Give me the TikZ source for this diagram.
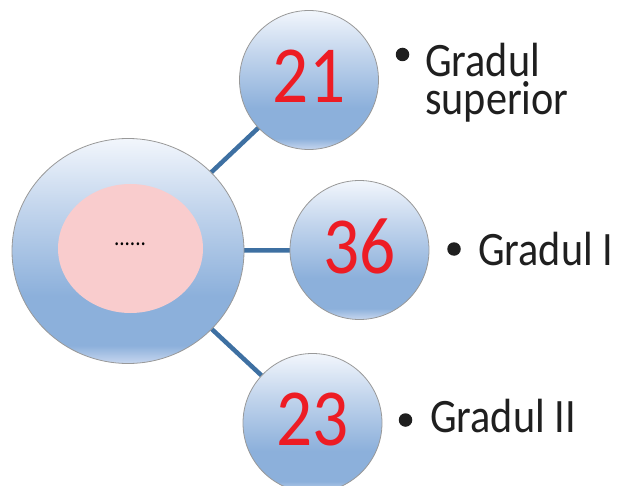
\documentclass[tikz,border=0pt]{standalone}
\usepackage{fontspec}
\setmainfont{Carlito}
\newfontfamily\lblfont{Carlito}[FakeStretch=0.88]
\usetikzlibrary{shapes.geometric,backgrounds}

\definecolor{bubbletop}{RGB}{242,246,252}
\definecolor{bubblemid}{RGB}{196,214,237}
\definecolor{bubblelow}{RGB}{140,176,219}
\definecolor{bubblerim}{RGB}{200,215,239}
\definecolor{corepink}{RGB}{249,204,205}
\definecolor{linkblue}{RGB}{62,112,162}
\definecolor{numred}{RGB}{237,28,36}

\pgfdeclareverticalshading{bubble}{100bp}{color(0bp)=(bubblerim); color(25bp)=(bubblerim); color(29bp)=(bubblelow); color(40bp)=(bubblelow); color(60bp)=(bubblemid); color(75bp)=(bubbletop); color(100bp)=(bubbletop)}

\begin{document}
\begin{tikzpicture}[x=1pt,y=-1pt,
    bubblenode/.style={circle,draw=black!40,line width=0.8pt,shading=bubble,minimum size=#1,inner sep=0pt},
    numtext/.style={text=numred,font=\lblfont\fontsize{81}{81}\selectfont,text depth=7pt},
    lbltext/.style={anchor=base west,inner sep=0pt,text=black!88,font=\lblfont\fontsize{48}{38}\selectfont},
    bulletdot/.style={circle,fill=black!88,inner sep=0pt,minimum size=13.5pt},
    linkline/.style={draw=linkblue,line width=4.5pt}]
    \useasboundingbox (0,0) rectangle (617,486);
    \clip (0,0) rectangle (617,486);

    % Core circle
    \node (core) [ellipse,draw=black!40,line width=0.8pt,shading=bubble,minimum width=232pt,minimum height=225pt] at (128,251) {};
    \node (inner) [ellipse,fill=corepink,minimum width=145pt,minimum height=129pt] at (130.5,248.5) {};
    \node (dots) [font=\lblfont\fontsize{24}{24}\selectfont] at (130,244) {......};

    % Degree circles
    \node (n21) [bubblenode=139pt,numtext] at (309,80) {21};
    \node (n36) [bubblenode=139pt,numtext] at (359.5,250) {36};
    \node (n23) [bubblenode=139pt,numtext] at (312.5,423) {23};

    \begin{scope}[on background layer]
        \draw[linkline] (core.center) -- (n21.center);
        \draw[linkline] (core.center) -- (n36.center);
        \draw[linkline] (core.center) -- (n23.center);
    \end{scope}

    % Labels
    \node (b21) [bulletdot] at (402.5,54.5) {};
    \node (t21) [lbltext] at (425,77) {Gradul};
    \node (t21b) [lbltext] at (425,115) {superior};
    \node (b36) [bulletdot] at (454,249) {};
    \node (t36) [lbltext] at (478,265) {Gradul I};
    \node (b23) [bulletdot] at (405.5,420) {};
    \node (t23) [lbltext] at (430,432) {Gradul II};
\end{tikzpicture}
\end{document}
